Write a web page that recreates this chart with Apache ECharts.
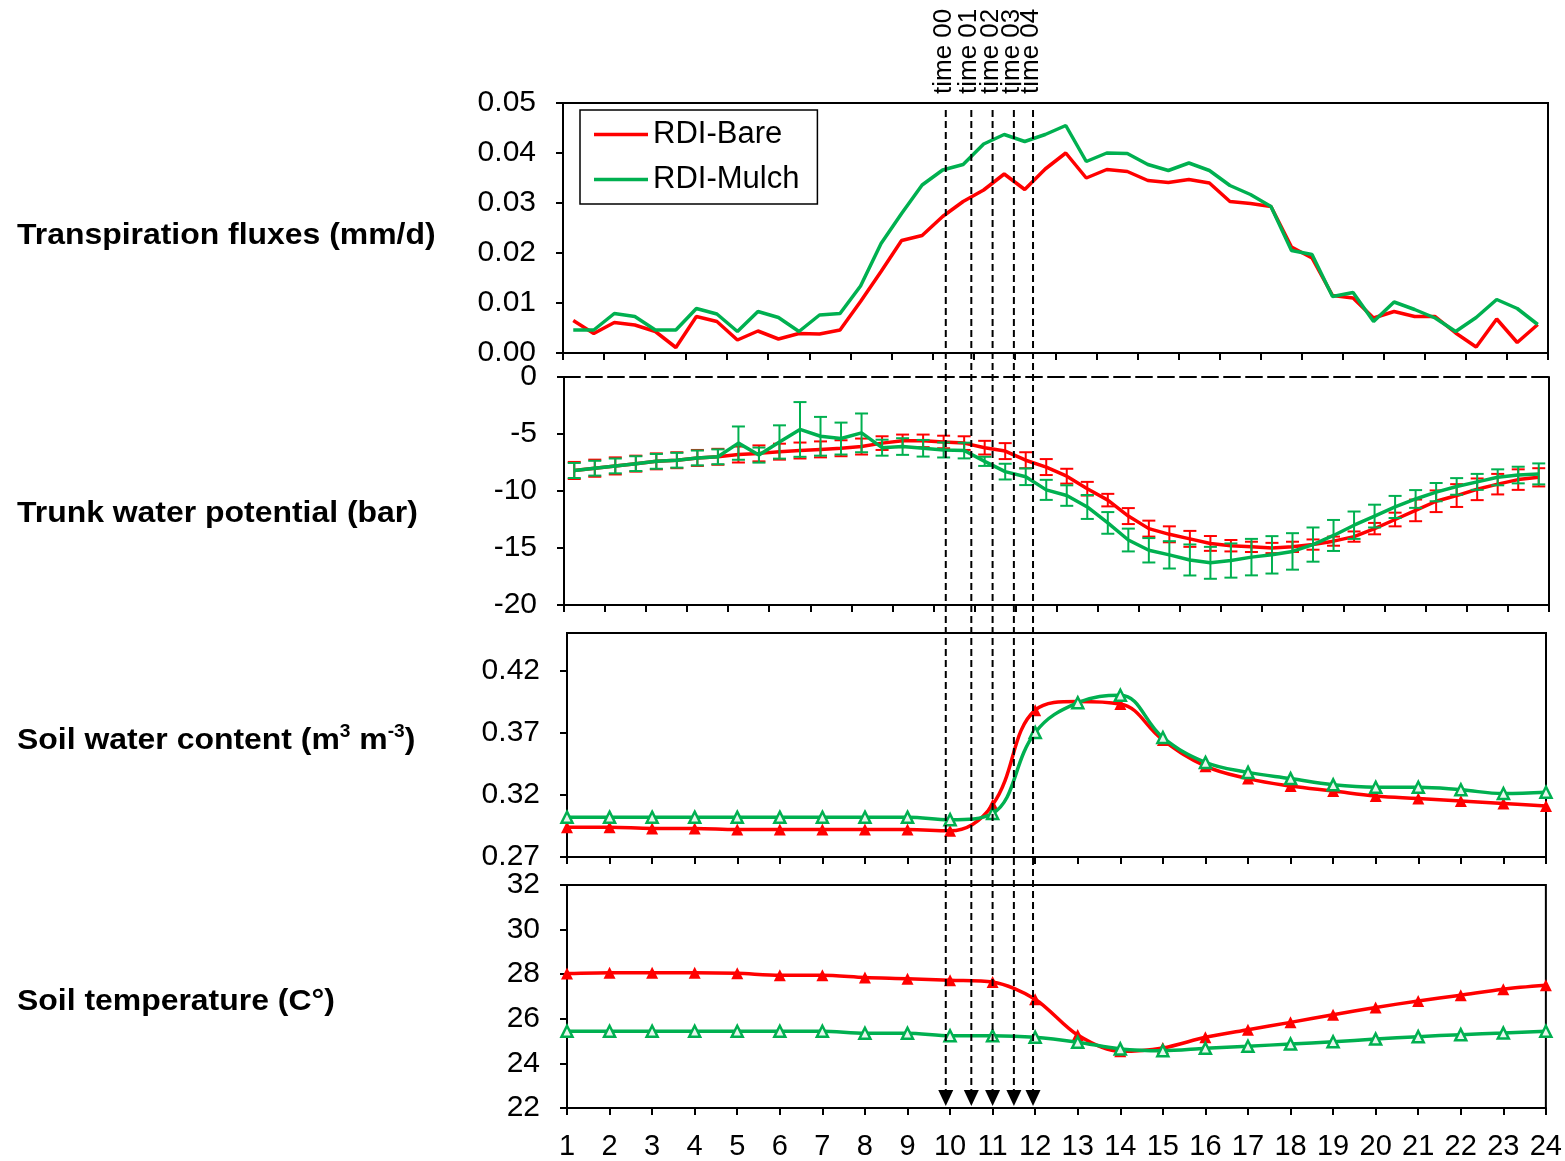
<!DOCTYPE html>
<html>
<head>
<meta charset="utf-8">
<script src="https://cdn.jsdelivr.net/npm/echarts@6/dist/echarts.min.js"></script>
<style>
  html, body { margin: 0; padding: 0; background: #fff; }
  #chart { width: 1565px; height: 1161px; }
</style>
</head>
<body>
<div id="chart"></div>
<script>
// ---- data -------------------------------------------------------------
// half-hourly slots for transpiration and trunk water potential
const halfHourSlots = [];
for (let h = 0; h < 24; h++) { halfHourSlots.push(h + ':00', h + ':30'); }

// hourly axis for soil water content and soil temperature
const hours = [1, 2, 3, 4, 5, 6, 7, 8, 9, 10, 11, 12, 13, 14, 15, 16, 17, 18, 19, 20, 21, 22, 23, 24];

// Transpiration fluxes (mm/d)
const transpBare = [0.0065, 0.0039, 0.0061, 0.0056, 0.0043, 0.0011, 0.0073, 0.0063, 0.0026, 0.0044,
  0.0028, 0.0039, 0.0038, 0.0046, 0.0103, 0.0163, 0.0225, 0.0235, 0.0273, 0.0303,
  0.0326, 0.0358, 0.0327, 0.0368, 0.0400, 0.0350, 0.0367, 0.0363, 0.0345, 0.0341,
  0.0347, 0.0340, 0.0303, 0.0299, 0.0293, 0.0212, 0.0190, 0.0115, 0.0110, 0.0070,
  0.0083, 0.0073, 0.0073, 0.0040, 0.0012, 0.0068, 0.0021, 0.0057];
const transpMulch = [0.0046, 0.0046, 0.0079, 0.0073, 0.0046, 0.0046, 0.0089, 0.0078, 0.0043, 0.0083,
  0.0071, 0.0043, 0.0076, 0.0079, 0.0134, 0.0219, 0.0279, 0.0336, 0.0366, 0.0377,
  0.0418, 0.0437, 0.0423, 0.0437, 0.0455, 0.0383, 0.0400, 0.0399, 0.0377, 0.0365,
  0.0380, 0.0365, 0.0335, 0.0317, 0.0293, 0.0205, 0.0197, 0.0113, 0.0121, 0.0063,
  0.0102, 0.0087, 0.0070, 0.0043, 0.0071, 0.0107, 0.0089, 0.0057];

// Trunk water potential (bar) and its standard error
const twpBare = [-8.2, -8.0, -7.8, -7.6, -7.4, -7.3, -7.1, -7.0, -6.8, -6.7,
  -6.55, -6.45, -6.35, -6.25, -6.1, -5.8, -5.6, -5.6, -5.7, -5.8,
  -6.2, -6.5, -7.3, -7.9, -8.7, -9.8, -10.8, -12.2, -13.3, -13.8,
  -14.2, -14.6, -14.8, -14.9, -15.0, -14.9, -14.7, -14.4, -14.0, -13.3,
  -12.5, -11.7, -10.9, -10.4, -9.85, -9.4, -9.0, -8.8];
const twpBareErr = [0.75, 0.75, 0.75, 0.7, 0.7, 0.7, 0.7, 0.7, 0.7, 0.7,
  0.7, 0.7, 0.7, 0.7, 0.7, 0.6, 0.55, 0.55, 0.55, 0.6,
  0.6, 0.7, 0.7, 0.7, 0.65, 0.6, 0.55, 0.7, 0.7, 0.7,
  0.7, 0.65, 0.5, 0.45, 0.45, 0.45, 0.45, 0.4, 0.45, 0.5,
  0.6, 0.95, 0.95, 1.0, 0.95, 0.9, 0.9, 0.8];
const twpMulch = [-8.2, -8.0, -7.8, -7.6, -7.4, -7.3, -7.1, -7.0, -5.8, -6.85,
  -5.7, -4.6, -5.2, -5.4, -4.9, -6.2, -6.1, -6.25, -6.4, -6.45,
  -7.4, -8.3, -8.75, -9.9, -10.4, -11.4, -12.8, -14.3, -15.2, -15.6,
  -16.05, -16.3, -16.1, -15.8, -15.6, -15.3, -14.7, -13.9, -13.0, -12.2,
  -11.4, -10.7, -10.1, -9.6, -9.2, -8.8, -8.6, -8.5];
const twpMulchErr = [0.66, 0.65, 0.65, 0.65, 0.65, 0.65, 0.65, 0.65, 1.46, 0.66,
  1.46, 2.4, 1.7, 1.4, 1.7, 0.7, 0.73, 0.73, 0.66, 0.69,
  0.4, 0.69, 0.73, 0.88, 0.9, 1.05, 0.95, 1.0, 1.07, 1.2,
  1.36, 1.4, 1.5, 1.6, 1.64, 1.6, 1.5, 1.36, 1.2, 1.0,
  0.97, 0.78, 0.8, 0.73, 0.7, 0.7, 0.73, 0.92];

// Soil water content (m3 m-3)
const swcBare = [0.294, 0.294, 0.293, 0.293, 0.292, 0.292, 0.292, 0.292, 0.292, 0.291,
  0.312, 0.388, 0.395, 0.393, 0.364, 0.343, 0.333, 0.327, 0.323, 0.319,
  0.317, 0.315, 0.313, 0.311];
const swcMulch = [0.302, 0.302, 0.302, 0.302, 0.302, 0.302, 0.302, 0.302, 0.302, 0.300,
  0.305, 0.370, 0.394, 0.400, 0.366, 0.346, 0.338, 0.333, 0.328, 0.326,
  0.326, 0.324, 0.321, 0.322];

// Soil temperature (C°)
const tempBare = [28.03, 28.07, 28.07, 28.07, 28.04, 27.95, 27.95, 27.85, 27.8, 27.73,
  27.65, 26.88, 25.27, 24.54, 24.69, 25.17, 25.51, 25.84, 26.18, 26.51,
  26.8, 27.06, 27.33, 27.5];
const tempMulch = [25.44, 25.44, 25.44, 25.44, 25.44, 25.44, 25.44, 25.35, 25.35, 25.24,
  25.24, 25.17, 24.95, 24.65, 24.57, 24.68, 24.77, 24.87, 24.97, 25.09,
  25.2, 25.29, 25.36, 25.44];

// irrigation sampling moments (hour on the soil axes)
const timeMarks = [9.9, 10.5, 11.0, 11.5, 11.95];
const timeLabels = ['time 00', 'time 01', 'time 02', 'time 03', 'time 04'];

const panelTitles = [
  'Transpiration fluxes (mm/d)',
  'Trunk water potential (bar)',
  'Soil water content (m{sup|3} m{sup|-3})',
  'Soil temperature (C°)'
];

// ---- styling ----------------------------------------------------------
const RED = '#FF0000';
const GREEN = '#00B050';
const FONT = "'Liberation Sans', Arial, sans-serif";

const axisLine = { show: true, onZero: false, lineStyle: { color: '#000', width: 2 } };
const axisTickOut = { show: true, inside: false, length: 7, lineStyle: { color: '#000', width: 2 } };
const yLabel = (digits) => ({
  show: true, margin: 27, fontSize: 30, color: '#000', fontFamily: FONT,
  formatter: (v) => digits != null ? Number(v).toFixed(digits) : String(Math.round(v))
});

function errorBars(color) {
  return function (params, api) {
    const i = api.value(0);
    const lo = api.coord([i, api.value(1)]);
    const hi = api.coord([i, api.value(2)]);
    const half = 6.5;
    const style = { stroke: color, lineWidth: 2 };
    return {
      type: 'group',
      children: [
        { type: 'line', shape: { x1: lo[0], y1: lo[1], x2: hi[0], y2: hi[1] }, style },
        { type: 'line', shape: { x1: lo[0] - half, y1: lo[1], x2: lo[0] + half, y2: lo[1] }, style },
        { type: 'line', shape: { x1: hi[0] - half, y1: hi[1], x2: hi[0] + half, y2: hi[1] }, style }
      ]
    };
  };
}
const withErr = (vals, errs) => vals.map((v, i) => [i, v - errs[i], v + errs[i]]);

const chart = echarts.init(document.getElementById('chart'));

const option = {
  animation: false,
  backgroundColor: '#fff',
  grid: [
    { left: 563, top: 103, width: 985, height: 250, show: true, borderColor: '#000', borderWidth: 2 },
    { left: 564, top: 377, width: 985, height: 228, show: false },
    { left: 567, top: 633, width: 979, height: 224, show: true, borderColor: '#000', borderWidth: 2 },
    { left: 567, top: 885, width: 979, height: 224, show: true, borderColor: '#000', borderWidth: 2 }
  ],
  xAxis: [
    { type: 'category', gridIndex: 0, data: halfHourSlots, boundaryGap: true,
      axisLine, axisTick: Object.assign({}, axisTickOut, { interval: 1 }),
      axisLabel: { show: false }, splitLine: { show: false } },
    { type: 'category', gridIndex: 1, data: halfHourSlots, boundaryGap: true,
      axisLine, axisTick: Object.assign({}, axisTickOut, { interval: 1 }),
      axisLabel: { show: false }, splitLine: { show: false } },
    { type: 'category', gridIndex: 1, data: halfHourSlots, position: 'top', boundaryGap: true,
      axisLine: { show: true, onZero: false, lineStyle: { color: '#000', width: 2, type: [16, 6] } },
      axisTick: { show: false }, axisLabel: { show: false }, splitLine: { show: false } },
    { type: 'value', gridIndex: 2, min: 1, max: 24, interval: 1,
      axisLine, axisTick: axisTickOut, axisLabel: { show: false }, splitLine: { show: false } },
    { type: 'value', gridIndex: 3, min: 1, max: 24, interval: 1,
      axisLine, axisTick: axisTickOut,
      axisLabel: { show: true, margin: 24, fontSize: 29, color: '#000', fontFamily: FONT },
      splitLine: { show: false } }
  ],
  yAxis: [
    { type: 'value', gridIndex: 0, min: 0, max: 0.05, interval: 0.01,
      axisLine, axisTick: axisTickOut, axisLabel: yLabel(2), splitLine: { show: false } },
    { type: 'value', gridIndex: 1, min: -20, max: 0, interval: 5,
      axisLine, axisTick: axisTickOut, axisLabel: yLabel(null), splitLine: { show: false } },
    { type: 'value', gridIndex: 1, min: -20, max: 0, interval: 5, position: 'right',
      axisLine, axisTick: { show: false }, axisLabel: { show: false }, splitLine: { show: false } },
    { type: 'value', gridIndex: 2, min: 0.27, max: 0.45, interval: 0.05,
      axisLine, axisTick: axisTickOut,
      axisLabel: Object.assign(yLabel(2), { showMaxLabel: false }), splitLine: { show: false } },
    { type: 'value', gridIndex: 3, min: 22, max: 32, interval: 2,
      axisLine, axisTick: axisTickOut, axisLabel: yLabel(null), splitLine: { show: false } }
  ],
  legend: {
    data: ['RDI-Bare', 'RDI-Mulch'],
    orient: 'vertical', left: 580, top: 110,
    icon: 'rect', itemWidth: 54, itemHeight: 3.5, itemGap: 14,
    padding: [9, 18, 9, 14],
    borderColor: '#000', borderWidth: 1.5, backgroundColor: '#fff',
    textStyle: { fontSize: 31, color: '#000', fontFamily: FONT }
  },
  series: [
    // transpiration
    { name: 'RDI-Bare', type: 'line', xAxisIndex: 0, yAxisIndex: 0, data: transpBare,
      color: RED, symbol: 'none', lineStyle: { color: RED, width: 3.5 }, z: 3 },
    { name: 'RDI-Mulch', type: 'line', xAxisIndex: 0, yAxisIndex: 0, data: transpMulch,
      color: GREEN, symbol: 'none', lineStyle: { color: GREEN, width: 3.5 }, z: 4 },
    // trunk water potential
    { name: 'RDI-Bare', type: 'line', xAxisIndex: 1, yAxisIndex: 1, data: twpBare,
      color: RED, symbol: 'none', lineStyle: { color: RED, width: 3.5 }, z: 3 },
    { name: 'RDI-Bare', type: 'custom', xAxisIndex: 1, yAxisIndex: 1, color: RED,
      renderItem: errorBars(RED), encode: { x: 0, y: [1, 2] }, data: withErr(twpBare, twpBareErr), z: 3 },
    { name: 'RDI-Mulch', type: 'line', xAxisIndex: 1, yAxisIndex: 1, data: twpMulch,
      color: GREEN, symbol: 'none', lineStyle: { color: GREEN, width: 3.5 }, z: 4 },
    { name: 'RDI-Mulch', type: 'custom', xAxisIndex: 1, yAxisIndex: 1, color: GREEN,
      renderItem: errorBars(GREEN), encode: { x: 0, y: [1, 2] }, data: withErr(twpMulch, twpMulchErr), z: 4 },
    // soil water content
    { name: 'RDI-Bare', type: 'line', xAxisIndex: 3, yAxisIndex: 3, smooth: 0.4,
      data: hours.map((h, i) => [h, swcBare[i]]), color: RED,
      symbol: 'triangle', symbolSize: 12, itemStyle: { color: RED },
      lineStyle: { color: RED, width: 3.5 }, z: 3 },
    { name: 'RDI-Mulch', type: 'line', xAxisIndex: 3, yAxisIndex: 3, smooth: 0.4,
      data: hours.map((h, i) => [h, swcMulch[i]]), color: GREEN,
      symbol: 'triangle', symbolSize: 11, itemStyle: { color: '#e8f7ee', borderColor: GREEN, borderWidth: 2.5 },
      lineStyle: { color: GREEN, width: 3.5 }, z: 4 },
    // soil temperature
    { name: 'RDI-Bare', type: 'line', xAxisIndex: 4, yAxisIndex: 4, smooth: 0.3,
      data: hours.map((h, i) => [h, tempBare[i]]), color: RED,
      symbol: 'triangle', symbolSize: 12, itemStyle: { color: RED },
      lineStyle: { color: RED, width: 3.5 }, z: 3 },
    { name: 'RDI-Mulch', type: 'line', xAxisIndex: 4, yAxisIndex: 4, smooth: 0.3,
      data: hours.map((h, i) => [h, tempMulch[i]]), color: GREEN,
      symbol: 'triangle', symbolSize: 11, itemStyle: { color: '#e8f7ee', borderColor: GREEN, borderWidth: 2.5 },
      lineStyle: { color: GREEN, width: 3.5 }, z: 4 }
  ]
};

chart.setOption(option);

// ---- panel titles and sampling-time markers ---------------------------
const titleY = [
  chart.convertToPixel({ yAxisIndex: 0 }, 0.025) + 8,
  chart.convertToPixel({ yAxisIndex: 1 }, -10) + 23,
  chart.convertToPixel({ yAxisIndex: 3 }, 0.36) - 4,
  chart.convertToPixel({ yAxisIndex: 4 }, 27) + 5
];
const graphics = panelTitles.map((t, k) => ({
  type: 'text', x: 17, y: titleY[k], z: 10, scaleX: 1.064,
  style: {
    text: t, fill: '#000', font: 'bold 30px ' + FONT,
    align: 'left', verticalAlign: 'middle', textAlign: 'left', textVerticalAlign: 'middle',
    rich: { sup: { fontSize: 18, fontWeight: 'bold', fontFamily: FONT, verticalAlign: 'top', lineHeight: 36, padding: [0, 0, 14, 0] } }
  }
}));

const yTop = chart.convertToPixel({ yAxisIndex: 0 }, 0.05) + 7;
const yBottom = chart.convertToPixel({ yAxisIndex: 4 }, 22) - 2;
timeMarks.forEach((t, k) => {
  const x = chart.convertToPixel({ xAxisIndex: 4 }, t);
  graphics.push({
    type: 'line', z: 20, silent: true,
    shape: { x1: x, y1: yTop, x2: x, y2: yBottom - 15 },
    style: { stroke: '#000', lineWidth: 2, lineDash: [7, 4] }
  });
  graphics.push({
    type: 'polygon', z: 20, silent: true,
    shape: { points: [[x - 7.5, yBottom - 16], [x + 7.5, yBottom - 16], [x, yBottom]] },
    style: { fill: '#000' }
  });
  graphics.push({
    type: 'text', z: 20, silent: true, x: x - 2, y: yTop - 16, rotation: Math.PI / 2,
    style: {
      text: timeLabels[k], fill: '#000', font: '26px ' + FONT,
      align: 'left', verticalAlign: 'middle', textAlign: 'left', textVerticalAlign: 'middle'
    }
  });
});

chart.setOption({ graphic: graphics });
</script>
</body>
</html>
